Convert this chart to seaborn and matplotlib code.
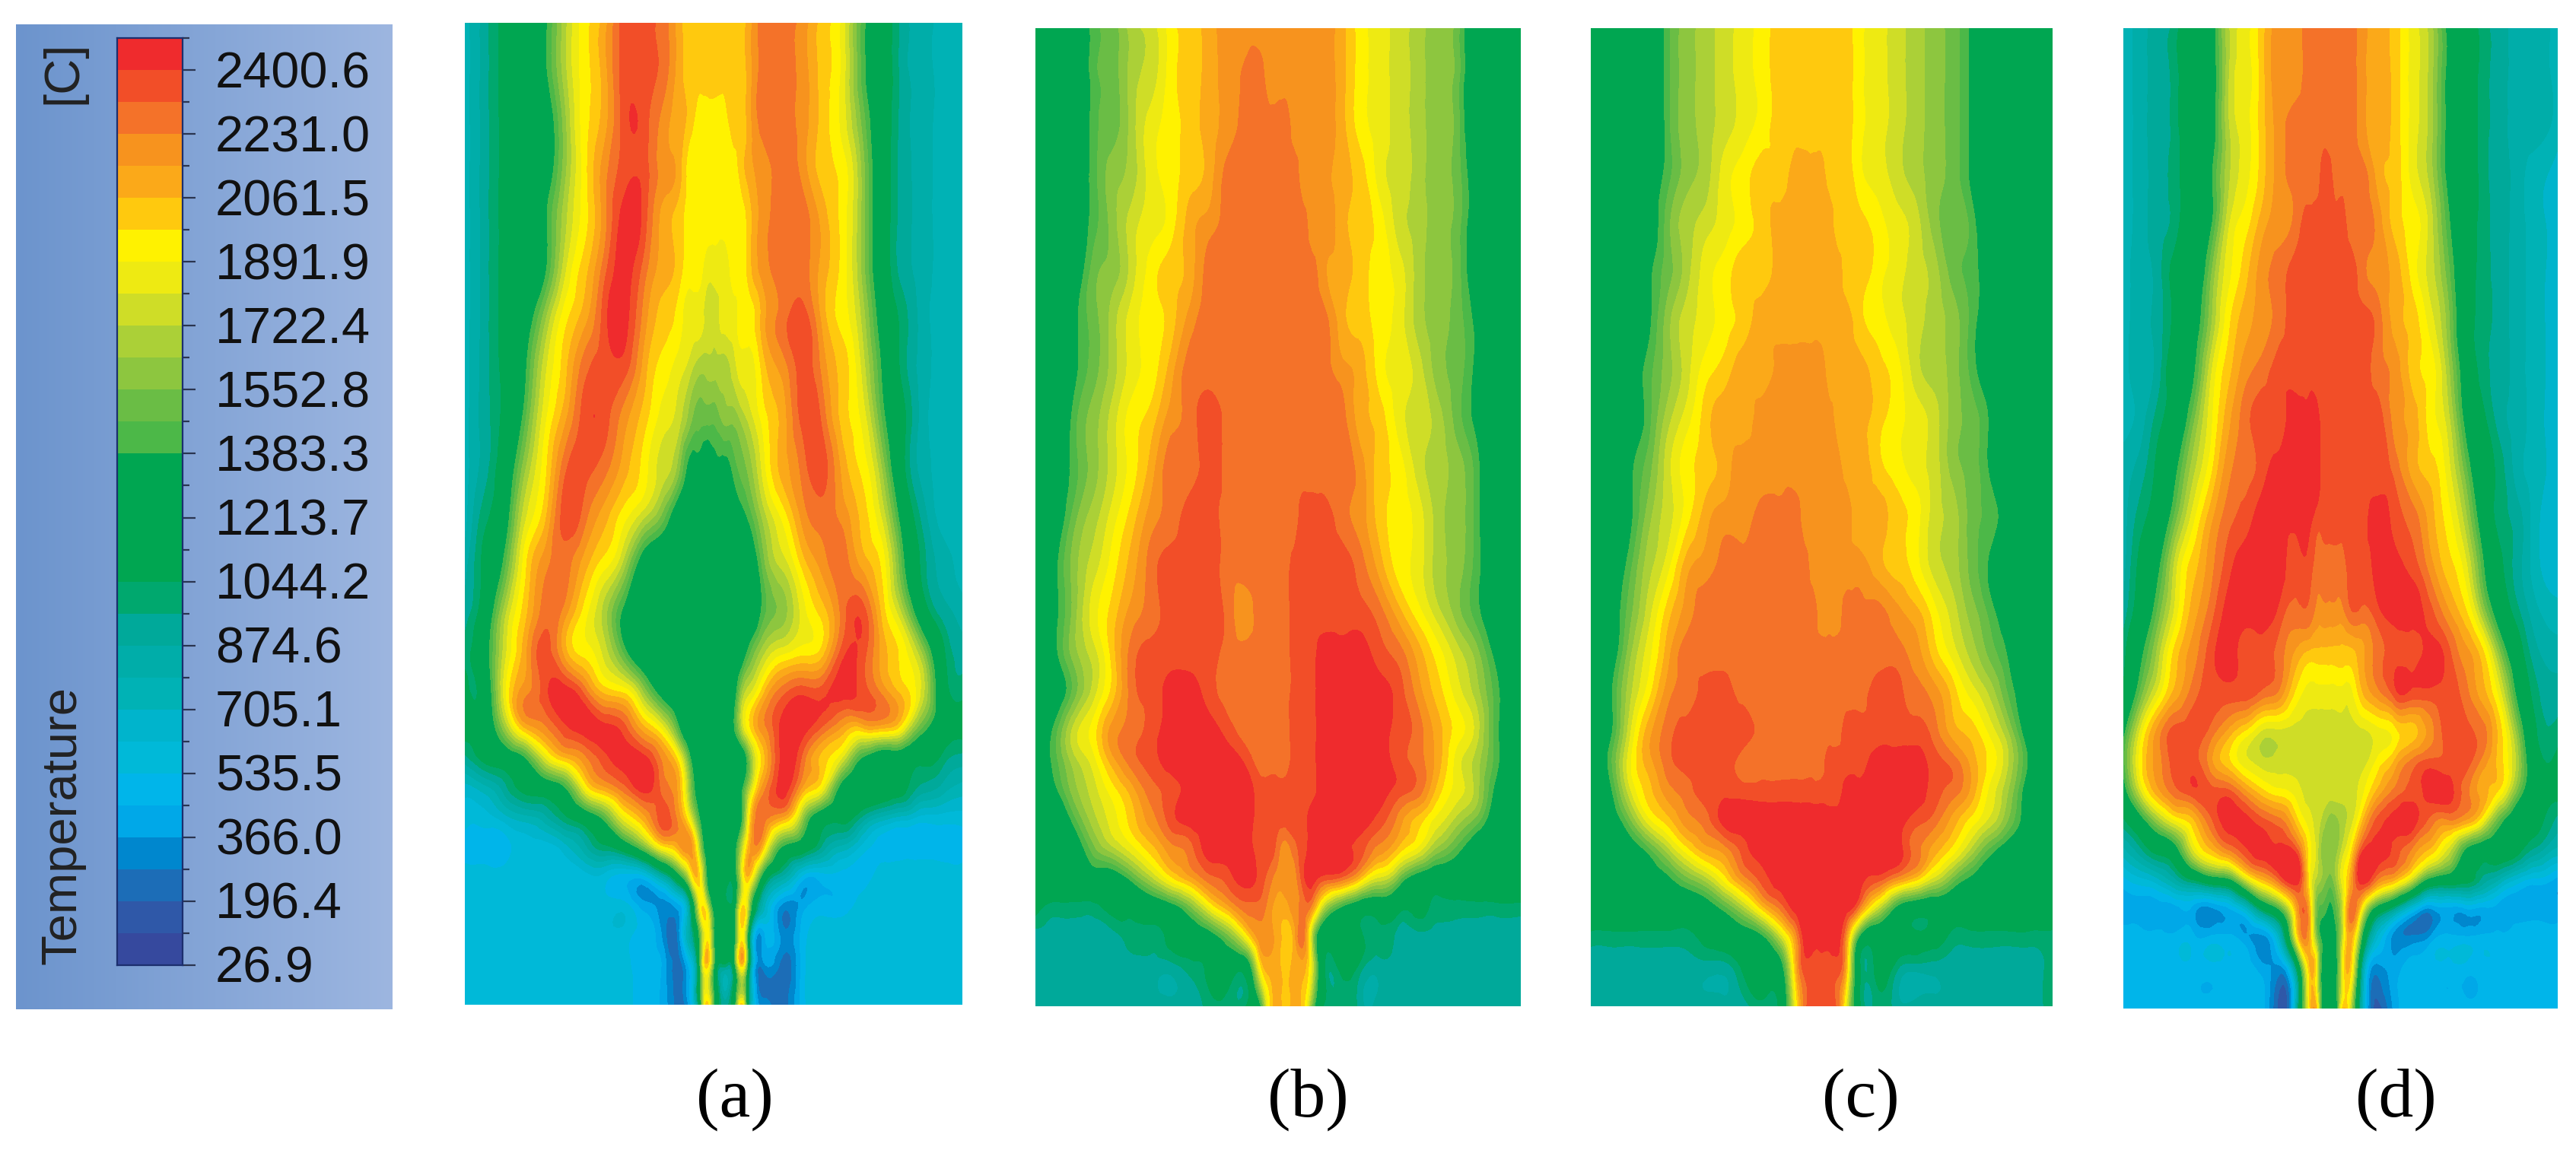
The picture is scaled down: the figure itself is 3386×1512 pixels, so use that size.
import numpy as np
import pandas as pd
import seaborn as sb
from matplotlib import pyplot as plt
from matplotlib.colors import ListedColormap, LinearSegmentedColormap
from matplotlib.tri import Triangulation, UniformTriRefiner

sb.set_theme(style='white')
plt.rcParams['font.family'] = ['Liberation Sans', 'DejaVu Sans']

W, H = 3386, 1512

# legend
t_min = 26.9
t_step = 84.78
tick_labels = ['2400.6', '2231.0', '2061.5', '1891.9', '1722.4', '1552.8', '1383.3', '1213.7',
               '1044.2', '874.6', '705.1', '535.5', '366.0', '196.4', '26.9']
band_colors = ['#36499E', '#2F58A8', '#1C6DB7', '#0087CE', '#00A8E8', '#00B5EA', '#00B9D8', '#00B4CC',
               '#00B2B5', '#00ADA9', '#00A99A', '#00A86E', '#00A651', '#00A651', '#00A651', '#00A651',
               '#4CB848', '#6ABD45', '#8DC63F', '#ABD037', '#CFDD27', '#EEEA12', '#FFF200', '#FFC90E',
               '#FBA919', '#F7931E', '#F47229', '#F24E28', '#EF2B2D']
box_colors = ['#6C94CD', '#9DB6E0']

# fraction of the panel height, top to bottom, shared by all panels
rows_v = [0, .05, .1, .15, .2, .25, .3, .35, .4, .45, .5, .55, .6, .64, .68, .72, .75, .78, .81, .84,
          .87, .9, .93, .96, 1]

# fields: legend band number read at each node
a_x = [46, 103, 160, 217, 274, 331, 388, 445, 502, 559, 616, 658, 690, 715, 740, 765, 790, 815, 838, 860,
       900, 957, 1014, 1071, 1128, 1185, 1242, 1299, 1356, 1413, 1470]
a_bands = [
    [8,10,12,13,15,19,22,24,27,27, 26,24,23,23,23,23,23,23,23,24, 26,26,25,23,21,16,13,10,9,8, 8],
    [8,10,12,13,15,19,22,24,27,27, 26,24,23,23,23,23,23,23,23,24, 26,26,25,23,21,16,13,10,9,8, 8],
    [8,10,12,13,14,18,22,24,27,27, 25,24,23,22,22,22,22,23,23,24, 26,26,25,23,21,17,13,10,9,8, 8],
    [8,10,12,13,14,18,22,25,27,27, 25,24,22,22,22,22,22,22,23,24, 25,26,25,23,22,18,13,10,9,8, 8],
    [8,10,12,13,15,19,22,25,28,27, 24,23,22,22,22,22,22,22,22,23, 25,26,26,24,22,18,13,10,9,8, 8],
    [8,10,12,13,15,20,23,26,28,26, 24,23,22,22,21,21,21,22,22,23, 25,26,26,24,22,18,13,10,9,8, 8],
    [8,10,12,14,18,22,24,27,28,25, 23,22,21,21,20,20,21,21,22,22, 24,26,27,24,22,19,14,11,9,8, 8],
    [8,10,12,15,20,23,26,27,27,24, 22,21,20,19,19,19,19,20,21,21, 23,25,27,25,23,20,15,11,9,8, 8],
    [8,10,12,16,21,24,27,27,25,23, 21,20,18,17,17,17,18,18,19,20, 22,24,27,26,23,21,16,12,9,8, 8],
    [8,10,13,18,22,26,27,26,24,22, 20,18,15,15,14,15,15,16,17,18, 21,24,26,27,24,22,18,12,9,8, 8],
    [8,11,14,20,23,27,26,24,22,20, 17,14,13,13,13,13,13,14,15,16, 19,22,25,26,25,23,20,14,10,8, 8],
    [9,12,16,22,25,26,24,22,19,14, 13,13,13,13,13,13,13,13,14,14, 17,20,23,25,26,24,22,16,11,9, 8],
    [10,13,19,23,26,25,22,19,15,13, 13,13,13,13,13,13,13,13,13,13, 16,18,21,23,26,27,23,19,13,10, 9],
    [11,14,20,24,27,24,22,20,16,13, 13,13,13,13,13,13,13,13,14,16, 19,21,22,23,27,27,24,22,18,12, 10],
    [12,13,21,25,27,28,26,23,22,18, 14,13,13,13,13,13,13,14,18,20, 23,26,27,27,28,27,25,23,20,13, 11],
    [12,13,18,23,25,27,28,28,27,24, 21,16,13,13,13,13,13,15,19,22, 25,28,28,26,24,23,23,21,16,13, 12],
    [10,12,13,15,20,23,25,27,28,28, 25,22,16,13,13,13,13,13,13,17, 23,28,26,23,20,15,13,13,12,11, 10],
    [7,8,10,12,13,15,21,24,26,28, 26,24,18,14,13,13,13,13,15,19, 25,28,24,21,14,13,13,12,10,9, 8],
    [6,6,7,8,9,11,13,16,21,24, 27,25,21,16,13,13,13,13,15,22, 26,24,18,13,12,10,8,7,6,6, 6],
    [5,5,5,6,6,7,9,11,13,17, 22,24,25,20,13,13,13,14,19,24, 23,15,13,10,8,6,5,5,5,5, 5],
    [6,6,6,6,6,6,6,6,5,5, 9,14,20,23,15,13,13,13,20,23, 14,9,5,5,5,5,6,6,6,6, 6],
    [6,6,6,6,6,6,6,6,6,4, 3,4,10,20,20,13,13,13,22,18, 8,3,4,5,5,6,6,6,6,6, 6],
    [6,6,6,6,6,6,6,6,6,5, 3,3,9,15,22,13,13,13,22,12, 4,3,5,6,6,6,6,6,6,6, 6],
    [6,6,6,6,6,6,6,6,6,5, 4,2,5,13,23,13,11,13,23,12, 3,2,5,6,6,6,6,6,6,6, 6],
    [6,6,6,6,6,6,6,6,6,5, 4,2,4,11,23,13,10,13,23,10, 3,2,5,6,6,6,6,6,6,6, 6],
]

b_x = [48, 105, 162, 219, 276, 333, 390, 447, 504, 561, 618, 675, 710, 735, 760, 785, 810, 835, 860, 890,
       947, 1004, 1061, 1118, 1175, 1232, 1289, 1346, 1403, 1477]
b_bands = [
    [13,13,13,16,17,19,20,22,23,24, 25,25,25,25,25,25,25,25,25,25, 24,22,21,20,19,18,17,13,13,13],
    [13,13,13,16,17,19,20,22,23,24, 25,26,26,25,25,25,25,25,25,25, 24,22,21,20,19,18,17,13,13,13],
    [13,13,13,16,17,19,21,22,23,24, 25,26,26,26,26,26,25,25,25,25, 24,22,21,20,19,18,17,13,13,13],
    [13,13,14,16,18,19,21,22,23,24, 26,26,26,26,26,26,26,25,25,25, 24,23,21,20,19,18,17,14,13,13],
    [13,13,14,16,18,20,21,22,24,25, 26,26,26,26,26,26,26,26,25,25, 24,23,22,20,19,18,17,14,13,13],
    [13,13,14,17,18,20,22,23,24,26, 26,26,26,26,26,26,26,26,26,25, 24,23,22,21,19,18,17,14,13,13],
    [13,13,15,17,19,21,22,23,25,26, 26,26,26,26,26,26,26,26,26,26, 24,23,22,21,19,18,17,15,13,13],
    [13,13,15,17,19,21,22,24,26,26, 26,26,26,26,26,26,26,26,26,26, 25,24,22,21,20,18,17,15,13,13],
    [13,13,16,18,20,22,23,25,26,27, 26,26,26,26,26,26,26,26,26,26, 26,24,23,21,20,19,17,15,13,13],
    [13,14,16,18,20,22,24,26,26,27, 26,26,26,26,26,26,26,26,26,26, 26,25,23,22,20,19,18,16,13,13],
    [13,14,17,19,21,23,25,26,27,27, 26,26,26,26,26,26,26,27,27,27, 26,25,23,22,21,19,18,16,13,13],
    [13,15,18,20,22,24,26,27,27,27, 26,26,26,26,26,26,27,27,27,27, 27,26,24,22,21,19,18,16,14,13],
    [13,15,18,21,23,25,26,27,27,27, 26,25,26,26,26,26,27,27,27,27, 27,27,26,24,22,20,18,16,14,13],
    [13,15,18,20,23,26,27,27,27,27, 26,26,26,26,26,26,27,27,27,28, 28,28,27,26,24,22,20,18,15,13],
    [13,14,17,20,23,26,27,28,28,27, 26,26,26,26,26,26,27,27,27,28, 28,28,28,27,25,23,21,19,16,13],
    [13,16,20,22,25,26,27,28,28,28, 27,26,26,26,26,26,27,27,27,28, 28,28,28,27,26,24,22,20,16,13],
    [13,16,19,21,24,26,27,28,28,28, 28,27,26,26,26,26,27,27,27,28, 28,28,28,27,26,24,21,19,16,13],
    [13,15,18,20,22,24,26,27,28,28, 28,28,27,27,27,27,27,27,27,28, 28,28,28,27,26,23,21,19,15,13],
    [13,13,16,19,21,23,25,27,28,28, 28,28,27,27,27,27,27,27,28,28, 28,28,27,25,23,21,19,17,14,13],
    [13,13,14,17,19,21,23,25,26,28, 28,28,27,27,26,25,26,27,28,28, 28,27,25,23,21,18,16,14,13,13],
    [13,13,13,14,14,16,19,22,24,26, 27,28,27,26,25,25,25,27,28,27, 26,23,20,17,14,13,13,13,13,13],
    [12,11,11,11,12,12,13,14,17,21, 24,26,26,25,24,24,25,26,25,20, 15,13,13,12,12,11,11,11,11,11],
    [10,10,10,10,10,11,11,12,13,14, 17,22,25,25,24,23,24,26,20,13, 13,12,11,10,10,10,10,10,10,10],
    [10,10,10,10,10,10,10,10,11,12, 13,14,22,24,24,23,24,24,21,13, 12,11,10,10,10,10,10,10,10,10],
    [10,10,10,10,10,10,10,10,10,11, 11,12,15,22,24,23,24,23,18,12, 11,10,10,10,10,10,10,10,10,10],
]

c_x = [72, 130, 188, 246, 304, 362, 420, 478, 536, 594, 652, 695, 720, 745, 770, 795, 820, 845, 880, 938,
       996, 1054, 1112, 1170, 1228, 1286, 1344, 1402, 1471]
c_bands = [
    [13,13,13,13,16,18,19,20,21,22, 23,23,23,23,23,23,23,23,22,21, 20,19,18,17,15,13,13,13,13],
    [13,13,13,13,16,18,19,20,21,22, 23,23,23,23,23,23,23,23,22,21, 20,19,18,17,15,13,13,13,13],
    [13,13,13,13,16,18,19,20,21,22, 23,23,23,23,23,23,23,23,22,21, 20,19,18,17,15,13,13,13,13],
    [13,13,13,14,16,18,19,21,22,23, 23,24,24,24,24,23,23,23,22,21, 20,19,18,17,15,13,13,13,13],
    [13,13,13,14,17,19,20,21,22,23, 24,24,24,24,24,24,23,23,23,22, 21,20,18,17,16,13,13,13,13],
    [13,13,13,15,17,19,21,22,23,23, 24,24,24,24,24,24,24,23,23,22, 21,20,19,17,16,14,13,13,13],
    [13,13,13,15,18,20,21,22,23,24, 24,24,24,24,24,24,24,24,23,22, 21,20,19,18,16,14,13,13,13],
    [13,13,14,16,18,20,22,23,24,24, 25,25,25,25,25,24,24,24,24,23, 22,20,19,18,16,14,13,13,13],
    [13,13,14,16,19,21,23,24,24,25, 25,25,25,25,25,25,24,24,24,23, 22,21,20,18,17,15,13,13,13],
    [13,13,15,17,20,22,23,24,25,25, 25,25,25,25,25,25,25,24,24,23, 22,21,20,18,17,15,13,13,13],
    [13,14,15,18,20,22,24,25,25,26, 26,26,25,25,25,25,25,25,24,24, 23,22,20,19,17,16,14,13,13],
    [13,14,16,19,21,24,25,26,26,26, 26,26,26,25,25,25,25,25,25,24, 23,22,20,19,17,15,13,13,13],
    [13,14,17,20,23,25,26,26,26,26, 26,26,26,26,25,25,25,26,26,26, 25,24,22,20,18,16,14,13,13],
    [13,14,18,21,24,26,26,26,26,26, 26,26,26,26,26,26,26,26,26,26, 26,25,23,21,19,17,15,13,13],
    [13,15,19,22,25,26,27,27,26,26, 26,26,26,26,26,26,26,26,26,27, 27,26,25,23,21,19,16,14,13],
    [13,15,20,24,26,27,27,27,27,26, 26,26,26,26,26,26,26,27,27,27, 27,27,26,24,23,21,18,14,13],
    [13,16,21,24,26,27,27,27,26,26, 26,26,26,26,26,27,27,27,27,28, 28,28,27,26,24,22,19,15,13],
    [13,15,20,23,25,26,27,27,27,27, 27,27,27,27,27,27,27,28,28,28, 28,28,27,26,24,21,18,14,13],
    [13,14,17,21,23,25,26,28,28,28, 28,28,28,28,28,28,28,28,28,28, 28,27,26,24,22,20,17,14,13],
    [13,13,14,16,19,22,24,25,27,28, 28,28,28,28,28,28,28,28,28,28, 28,26,24,22,19,16,14,13,13],
    [13,13,13,14,15,17,19,22,25,27, 28,28,28,28,28,28,28,28,28,27, 25,23,20,17,15,14,13,13,13],
    [13,13,13,13,13,13,14,16,19,23, 26,28,28,28,28,28,28,28,26,20, 15,13,13,13,13,13,13,13,13],
    [11,11,11,11,11,11,12,13,14,15, 20,25,28,28,28,28,28,25,16,13, 13,12,12,11,11,11,11,11,11],
    [10,10,10,10,10,10,10,10,12,13, 15,24,27,27,27,27,27,24,13,12, 11,10,10,10,10,10,10,10,11],
    [10,10,10,10,10,10,10,10,10,11, 13,22,26,27,27,27,26,21,13,11, 10,10,10,10,10,10,10,10,11],
]

d_x = [79, 136, 193, 250, 307, 364, 421, 478, 535, 592, 649, 690, 715, 735, 755, 775, 800, 825, 860, 917,
       974, 1031, 1088, 1145, 1202, 1259, 1316, 1373, 1430, 1507]
d_bands = [
    [8,9,10,11,13,14,19,21,23,25, 25,26,26,26,26,26,26,26,25,24, 23,21,19,15,13,11,10,9,9,8],
    [8,9,10,11,13,14,19,21,23,25, 25,26,26,26,26,26,26,26,25,24, 23,21,19,15,13,11,10,9,9,8],
    [8,9,10,11,13,14,19,21,23,25, 26,26,26,26,26,26,26,26,25,24, 23,21,19,15,13,11,10,9,9,8],
    [8,9,10,11,13,15,19,21,23,25, 26,26,26,27,27,26,26,26,26,24, 23,21,19,15,13,11,10,9,8,7],
    [8,9,10,11,13,15,20,22,24,25, 26,27,27,27,27,27,27,26,26,25, 23,22,20,16,13,11,10,9,8,7],
    [8,9,10,12,13,17,21,23,25,26, 27,27,27,27,27,27,27,27,26,25, 24,22,20,17,13,11,10,9,8,7],
    [8,9,10,12,14,18,22,24,25,26, 27,27,27,27,27,27,27,27,27,26, 24,23,21,18,13,11,10,9,8,7],
    [8,9,10,13,15,20,23,25,26,27, 27,27,27,27,27,27,27,27,27,26, 25,23,22,19,14,11,10,9,8,7],
    [8,9,11,13,17,21,24,26,27,27, 28,28,28,27,27,27,27,27,27,27, 25,24,22,20,15,12,10,9,8,7],
    [9,10,12,15,19,22,25,26,27,28, 28,28,28,27,27,27,27,27,27,27, 26,24,23,21,17,13,11,9,8,7],
    [9,11,13,17,21,24,26,27,28,28, 28,28,27,27,27,27,27,27,27,28, 27,26,24,22,19,14,11,10,8,7],
    [9,12,15,20,23,25,27,28,28,28, 27,27,26,26,26,26,26,27,27,28, 28,27,25,23,21,16,12,10,8,7],
    [10,13,17,21,24,26,28,28,28,27, 26,26,25,25,25,25,25,26,26,27, 28,28,27,25,23,19,14,11,9,8],
    [11,15,19,23,25,27,28,27,27,26, 24,23,23,23,23,23,23,23,24,26, 27,27,28,27,25,23,18,13,10,9],
    [12,17,21,24,26,27,27,27,26,25, 22,21,21,21,21,21,21,21,23,25, 27,27,27,27,26,24,21,15,11,10],
    [15,21,25,27,27,26,24,22,20,20, 20,20,20,20,20,20,20,20,20,21, 22,23,25,27,27,26,23,18,12,11],
    [16,22,25,27,27,25,23,21,20,20, 20,20,20,20,20,20,20,20,20,22, 24,26,27,27,27,25,23,19,13,12],
    [14,20,24,26,27,27,27,25,23,22, 21,20,20,20,20,20,20,20,21,24, 26,27,28,28,26,24,22,17,13,12],
    [11,14,18,21,23,26,28,28,27,26, 23,21,20,19,18,18,19,20,23,27, 28,28,26,25,24,21,16,13,12,10],
    [8,10,12,14,20,23,25,27,28,28, 27,22,20,18,18,18,20,22,27,28, 27,25,23,20,15,13,13,12,10,8],
    [5,6,7,9,11,13,14,19,23,26, 28,22,19,18,17,18,21,24,28,25, 23,19,14,13,12,10,8,6,5,4],
    [4,4,4,4,4,3,4,6,11,15, 24,24,17,16,15,16,20,26,22,13, 9,5,3,4,4,4,4,4,4,4],
    [5,5,5,5,5,5,5,4,3,7, 21,24,18,15,14,15,20,24,16,6, 3,3,4,5,5,5,5,5,5,5],
    [5,5,5,5,5,5,5,5,4,3, 11,23,21,14,13,14,21,23,11,3, 4,5,5,5,5,5,5,5,5,5],
    [5,5,5,5,5,5,5,5,5,1, 9,22,23,13,13,13,23,20,9,1, 4,5,5,5,5,5,5,5,5,5],
]

panel_labels = ['(a)', '(b)', '(c)', '(d)']


def px_axes(fig, x0, y0, x1, y1):
    return fig.add_axes([x0 / W, 1 - y1 / H, (x1 - x0) / W, (y1 - y0) / H])


def draw_field(ax, xs, bands):
    u = (np.array(xs) - xs[0]) / (xs[-1] - xs[0])
    temps = t_min + (np.array(bands) + 0.5) * t_step
    levels = t_min + np.arange(len(band_colors) + 1) * t_step
    # contour through the read nodes with matplotlib's own cubic refiner
    uu, vv = np.meshgrid(u, rows_v)
    tri = Triangulation(uu.ravel(), vv.ravel())
    tri_fine, t_fine = UniformTriRefiner(tri).refine_field(temps.ravel(), subdiv=3)
    t_fine = np.clip(t_fine, levels[0] + 1, levels[-1] - 1)
    ax.tricontourf(tri_fine, t_fine, levels=levels, colors=band_colors, antialiased=False)
    ax.set_xlim(0, 1)
    ax.set_ylim(1, 0)
    ax.axis('off')


fig = plt.figure(figsize=(W / 100, H / 100), dpi=100, facecolor='white')

# legend background
ax_box = px_axes(fig, 21, 32, 516, 1327)
ax_box.imshow(np.linspace(0, 1, 256)[None, :], aspect='auto',
              cmap=LinearSegmentedColormap.from_list('box', box_colors))
ax_box.axis('off')

# legend strip
strip = pd.DataFrame({'t': np.arange(len(band_colors))[::-1]})
ax_bar = px_axes(fig, 154, 50, 240, 1269)
ax_bar.patch.set_alpha(0)
sb.heatmap(strip, ax=ax_bar, cbar=False, cmap=ListedColormap(band_colors), xticklabels=False,
           yticklabels=False, vmin=-0.5, vmax=len(band_colors) - 0.5)
ax_bar.yaxis.tick_right()
ax_bar.set_ylabel('')
minor_pos = np.arange(0, len(band_colors), 2)
major_pos = np.arange(1, len(band_colors) + 1, 2)
ax_bar.set_yticks(major_pos)
ax_bar.set_yticklabels([])
ax_bar.set_yticks(minor_pos, minor=True)
ax_bar.tick_params(axis='y', which='major', length=12, width=1.6, color='#2a3550', right=True, left=False)
ax_bar.tick_params(axis='y', which='minor', length=6.5, width=1.6, color='#2a3550', right=True, left=False)
for side in ['left', 'right', 'top', 'bottom']:
    ax_bar.spines[side].set_visible(True)
    ax_bar.spines[side].set_color('#1c2f6e')
    ax_bar.spines[side].set_linewidth(1.6)
for pos, lab in zip(major_pos, tick_labels):
    fig.text(283 / W, 1 - (50 + pos * (1269 - 50) / len(band_colors) + 6) / H, lab, fontsize=48,
             color='#111111', ha='left', va='center')
fig.text(83 / W, 1 - 1268 / H, 'Temperature', fontsize=47, color='#222222', rotation=90, ha='center', va='bottom')
fig.text(83 / W, 1 - 54 / H, '[C]', fontsize=47, color='#222222', rotation=90, ha='center', va='top')

# panels
draw_field(px_axes(fig, 611, 30, 1265, 1321), a_x, a_bands)
draw_field(px_axes(fig, 1361, 37, 1999, 1323), b_x, b_bands)
draw_field(px_axes(fig, 2091, 37, 2698, 1323), c_x, c_bands)
draw_field(px_axes(fig, 2791, 37, 3362, 1326), d_x, d_bands)

for lab, cx in zip(panel_labels, [966, 1719, 2446, 3149]):
    fig.text(cx / W, 1 - 1446 / H, lab, fontsize=66, family=['Liberation Serif', 'DejaVu Serif'],
             color='black', ha='center', va='center')

fig.savefig('out.png', dpi=100)
